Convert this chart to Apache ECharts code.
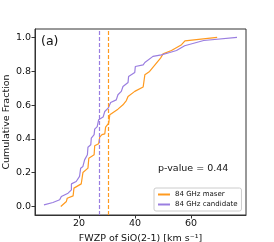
<!DOCTYPE html>
<html><head><meta charset="utf-8">
<script src="https://cdn.jsdelivr.net/npm/echarts@6/dist/echarts.min.js"></script>
<style>html,body{margin:0;padding:0;background:#fff}#c{width:274px;height:242px}</style>
</head><body><div id="c"></div>
<script>
// 84 GHz maser (orange) curve
var maserX = [13.5,15.5,15.8,17.9,18.2,20.8,21.4,23.2,23.5,25.4,25.6,27.0,27.4,28.2,29.2,29.5,30.6,31.0,33.9,35.7,36.9,37.5,39.9,42.9,43.5,43.5,45.2,49.1,50.0,53.0,56.6,57.8,69.3];
var maserY = [0.0,0.030,0.049,0.063,0.109,0.134,0.201,0.227,0.286,0.306,0.359,0.371,0.411,0.425,0.430,0.470,0.493,0.543,0.576,0.602,0.627,0.651,0.681,0.707,0.714,0.779,0.799,0.878,0.903,0.923,0.957,0.980,1.0];
// 84 GHz candidate (purple) curve
var candX = [7.5,10.7,13.1,13.7,16.1,17.3,17.3,19.0,20.2,20.6,21.4,22.0,23.0,23.2,24.2,24.4,25.4,25.6,26.5,27.0,28.6,29.2,30.4,31.3,33.3,33.9,35.1,35.7,37.5,37.7,39.9,40.1,42.9,43.5,46.4,49.4,52.4,54.8,57.7,64.5,76.4];
var candY = [0.010,0.024,0.040,0.059,0.079,0.099,0.134,0.148,0.178,0.227,0.237,0.276,0.306,0.351,0.365,0.405,0.425,0.458,0.473,0.513,0.529,0.562,0.582,0.615,0.631,0.661,0.681,0.710,0.734,0.769,0.793,0.828,0.838,0.852,0.888,0.897,0.911,0.923,0.951,0.982,1.0];
var medians = [30.4, 27.4]; // maser, candidate
var xTicks = [20, 40, 60];
var yTicks = [0, 0.2, 0.4, 0.6, 0.8, 1.0];
var names = ['84 GHz maser', '84 GHz candidate'];
var colors = ['#ff9a1f', '#9a7ee0'];

function pairs(xs, ys){ return xs.map(function(x,i){return [x, ys[i]];}); }
var F = 'DejaVu Sans';
var chart = echarts.init(document.getElementById('c'));
chart.setOption({
  animation:false,
  textStyle:{fontFamily:F},
  grid:{left:35, top:29, width:211, height:186, show:true, borderColor:'#333', borderWidth:1,
    containLabel:false, outerBoundsMode:'none'},
  xAxis:{type:'value', min:4.3, max:79.6,
    name:'FWZP of SiO(2-1) [km s⁻¹]', nameLocation:'middle', nameGap:19, nameMoveOverlap:false,
    nameTextStyle:{fontFamily:F, fontSize:9.5, color:'#111'},
    axisLine:{show:true, onZero:false, lineStyle:{color:'#333'}},
    axisTick:{show:true, inside:false, length:3.5, customValues:xTicks, lineStyle:{color:'#333'}},
    axisLabel:{customValues:xTicks, fontFamily:F, fontSize:9.5, color:'#111', margin:4},
    splitLine:{show:false}},
  yAxis:{type:'value', min:-0.05, max:1.05,
    name:'Cumulative Fraction', nameLocation:'middle', nameGap:23, nameRotate:90, nameMoveOverlap:false,
    nameTextStyle:{fontFamily:F, fontSize:9.5, color:'#111'},
    axisLine:{show:true, onZero:false, lineStyle:{color:'#333'}},
    axisTick:{show:true, inside:false, length:3.5, customValues:yTicks, lineStyle:{color:'#333'}},
    axisLabel:{customValues:yTicks, fontFamily:F, fontSize:9.5, color:'#111', margin:4,
      formatter:function(v){return v.toFixed(1);}},
    splitLine:{show:false}},
  legend:{show:true, left:154, top:188, orient:'vertical', itemWidth:12, itemHeight:2, itemGap:3,
    backgroundColor:'#fff', borderColor:'#ccc', borderWidth:1, borderRadius:2, padding:[3,4,3,4],
    textStyle:{fontFamily:F, fontSize:7, color:'#111'},
    data:[{name:names[0], icon:'rect'},{name:names[1], icon:'rect'}]},
  series:[
    {name:names[0], type:'line', data:pairs(maserX, maserY), showSymbol:false, symbol:'none',
      lineStyle:{color:colors[0], width:1.2}, itemStyle:{color:colors[0]},
      markLine:{silent:true, symbol:'none', label:{show:false},
        lineStyle:{color:colors[0], type:[4,2], width:1.2}, data:[{xAxis:medians[0]}]}},
    {name:names[1], type:'line', data:pairs(candX, candY), showSymbol:false, symbol:'none',
      lineStyle:{color:colors[1], width:1.2}, itemStyle:{color:colors[1]},
      markLine:{silent:true, symbol:'none', label:{show:false},
        lineStyle:{color:colors[1], type:[4,2], width:1.2}, data:[{xAxis:medians[1]}]}}
  ],
  graphic:[
    {type:'text', left:41, top:35, style:{text:'(a)', fontFamily:F, fontSize:12.5, fill:'#111'}},
    {type:'text', left:158, top:164, style:{text:'p-value = 0.44', fontFamily:F, fontSize:9.5, fill:'#111'}}
  ]
});
</script></body></html>
